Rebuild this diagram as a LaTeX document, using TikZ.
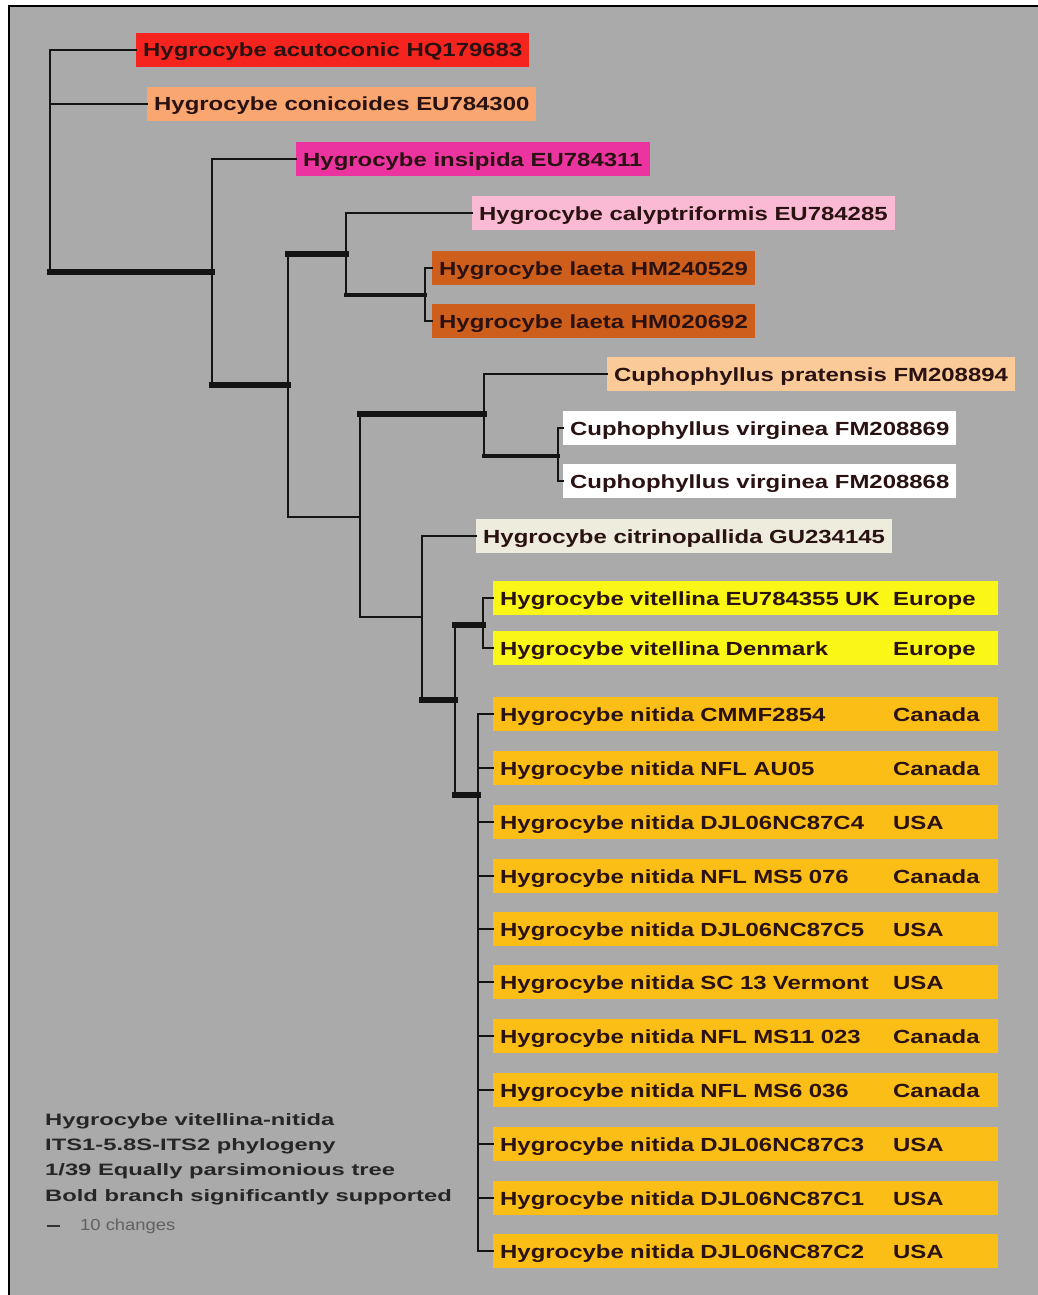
\documentclass[tikz,border=0pt]{standalone}
\usepackage{fontspec}
\usepackage{tikz}
\usetikzlibrary{positioning,calc}
\newfontfamily\taxonfont{Liberation Sans}[FakeStretch=1.26]
\newfontfamily\notefont{Liberation Sans}[FakeStretch=1.44]
\newfontfamily\barfont{Liberation Sans}[FakeStretch=1.15]
\definecolor{panel}{RGB}{170,170,171}
\definecolor{ink}{RGB}{42,18,18}
\definecolor{acutored}{RGB}{246,36,30}
\definecolor{conicsalmon}{RGB}{250,166,112}
\definecolor{insipmagenta}{RGB}{236,52,160}
\definecolor{calyppink}{RGB}{250,186,212}
\definecolor{laetaorange}{RGB}{206,94,28}
\definecolor{pratpeach}{RGB}{250,202,152}
\definecolor{citrivory}{RGB}{238,236,220}
\definecolor{vityellow}{RGB}{250,246,22}
\definecolor{nitgold}{RGB}{250,190,22}
\tikzset{
    taxon/.style={fill=#1,anchor=west,text=ink,inner xsep=7pt,inner ysep=0pt,
        minimum height=34pt,text height=17pt,text depth=3pt,
        font=\taxonfont\bfseries\fontsize{19}{22}\selectfont},
    taxonrow/.style={taxon=#1,text width=491pt,align=left},
    country/.style={anchor=west,text=ink,inner sep=0pt,text height=17pt,text depth=3pt,
        font=\taxonfont\bfseries\fontsize{19}{22}\selectfont},
    branch/.style={draw=black!92,line width=2pt,line cap=rect},
    midbranch/.style={branch,line width=3.5pt},
    boldbranch/.style={branch,line width=6.5pt}
}

\begin{document}
\begin{tikzpicture}[x=1pt,y=-1pt]
        \useasboundingbox (0,0) rectangle (1038,1295);
        \fill[panel] (9,6) rectangle (1038,1295);
        \draw[line width=2.5pt] (9,1295) -- (9,6) -- (1038,6);

        % Taxa
        \node[taxon=acutored] (acuto) at (136,50) {Hygrocybe acutoconic HQ179683};
        \node[taxon=conicsalmon] (conic) at (147,104) {Hygrocybe conicoides EU784300};
        \node[taxon=insipmagenta] (insip) at (296,159) {Hygrocybe insipida EU784311};
        \node[taxon=calyppink] (calyp) at (472,213) {Hygrocybe calyptriformis EU784285};
        \node[taxon=laetaorange] (laetaA) at (432,268) {Hygrocybe laeta HM240529};
        \node[taxon=laetaorange] (laetaB) at (432,321) {Hygrocybe laeta HM020692};
        \node[taxon=pratpeach] (prat) at (607,374) {Cuphophyllus pratensis FM208894};
        \node[taxon=white] (virgA) at (563,428) {Cuphophyllus virginea FM208869};
        \node[taxon=white] (virgB) at (563,481) {Cuphophyllus virginea FM208868};
        \node[taxon=citrivory] (citri) at (476,536) {Hygrocybe citrinopallida GU234145};

        % vitellina-nitida rows, with the region in its own column
        \node[taxonrow=vityellow] (vitA) at (493,598) {Hygrocybe vitellina EU784355 UK};
        \node[country] (vitAc) at (893,598) {Europe};
        \node[taxonrow=vityellow] (vitB) at (493,648) {Hygrocybe vitellina Denmark};
        \node[country] (vitBc) at (893,648) {Europe};
        \node[taxonrow=nitgold] (nitA) at (493,714) {Hygrocybe nitida CMMF2854};
        \node[country] (nitAc) at (893,714) {Canada};
        \node[taxonrow=nitgold] (nitB) at (493,768) {Hygrocybe nitida NFL AU05};
        \node[country] (nitBc) at (893,768) {Canada};
        \node[taxonrow=nitgold] (nitC) at (493,822) {Hygrocybe nitida DJL06NC87C4};
        \node[country] (nitCc) at (893,822) {USA};
        \node[taxonrow=nitgold] (nitD) at (493,876) {Hygrocybe nitida NFL MS5 076};
        \node[country] (nitDc) at (893,876) {Canada};
        \node[taxonrow=nitgold] (nitE) at (493,929) {Hygrocybe nitida DJL06NC87C5};
        \node[country] (nitEc) at (893,929) {USA};
        \node[taxonrow=nitgold] (nitF) at (493,982) {Hygrocybe nitida SC 13 Vermont};
        \node[country] (nitFc) at (893,982) {USA};
        \node[taxonrow=nitgold] (nitG) at (493,1036) {Hygrocybe nitida NFL MS11 023};
        \node[country] (nitGc) at (893,1036) {Canada};
        \node[taxonrow=nitgold] (nitH) at (493,1090) {Hygrocybe nitida NFL MS6 036};
        \node[country] (nitHc) at (893,1090) {Canada};
        \node[taxonrow=nitgold] (nitI) at (493,1144) {Hygrocybe nitida DJL06NC87C3};
        \node[country] (nitIc) at (893,1144) {USA};
        \node[taxonrow=nitgold] (nitJ) at (493,1198) {Hygrocybe nitida DJL06NC87C1};
        \node[country] (nitJc) at (893,1198) {USA};
        \node[taxonrow=nitgold] (nitK) at (493,1251) {Hygrocybe nitida DJL06NC87C2};
        \node[country] (nitKc) at (893,1251) {USA};

        % Internal nodes of the tree
        \coordinate (root) at (50,272);
        \coordinate (hygro) at (212,272);
        \coordinate (core) at (288,385);
        \coordinate (calclade) at (346,254);
        \coordinate (laeta) at (425,295);
        \coordinate (cupclade) at (360,517);
        \coordinate (cuph) at (484,414);
        \coordinate (virg) at (558,456);
        \coordinate (citclade) at (422,617);
        \coordinate (vitnit) at (455,700);
        \coordinate (vit) at (483,625);
        \coordinate (nit) at (478,795);

        % Branches
        \draw[branch] (root |- acuto.west) -- (root);
        \draw[branch] (root |- acuto.west) -- (acuto.west);
        \draw[branch] (root |- conic.west) -- (conic.west);
        \draw[boldbranch] (root) -- (hygro);

        \draw[branch] (hygro |- insip.west) -- (hygro |- core);
        \draw[branch] (hygro |- insip.west) -- (insip.west);
        \draw[boldbranch] (hygro |- core) -- (core);

        \draw[branch] (core |- calclade) -- (core |- cupclade);
        \draw[boldbranch] (core |- calclade) -- (calclade);
        \draw[branch] (core |- cupclade) -- (cupclade);

        \draw[branch] (calclade |- calyp.west) -- (calclade |- laeta);
        \draw[branch] (calclade |- calyp.west) -- (calyp.west);
        \draw[midbranch] (calclade |- laeta) -- (laeta);
        \draw[branch] (laeta |- laetaA.west) -- (laeta |- laetaB.west);
        \draw[branch] (laeta |- laetaA.west) -- (laetaA.west);
        \draw[branch] (laeta |- laetaB.west) -- (laetaB.west);

        \draw[branch] (cupclade |- cuph) -- (cupclade |- citclade);
        \draw[boldbranch] (cupclade |- cuph) -- (cuph);
        \draw[branch] (cupclade |- citclade) -- (citclade);
        \draw[branch] (cuph |- prat.west) -- (cuph |- virg);
        \draw[branch] (cuph |- prat.west) -- (prat.west);
        \draw[midbranch] (cuph |- virg) -- (virg);
        \draw[branch] (virg |- virgA.west) -- (virg |- virgB.west);
        \draw[branch] (virg |- virgA.west) -- (virgA.west);
        \draw[branch] (virg |- virgB.west) -- (virgB.west);

        \draw[branch] (citclade |- citri.west) -- (citclade |- vitnit);
        \draw[branch] (citclade |- citri.west) -- (citri.west);
        \draw[boldbranch] (citclade |- vitnit) -- (vitnit);
        \draw[branch] (vitnit |- vit) -- (vitnit |- nit);
        \draw[boldbranch] (vitnit |- vit) -- (vit);
        \draw[boldbranch] (vitnit |- nit) -- (nit);
        \draw[branch] (vit |- vitA.west) -- (vit |- vitB.west);
        \draw[branch] (vit |- vitA.west) -- (vitA.west);
        \draw[branch] (vit |- vitB.west) -- (vitB.west);

        % nitida polytomy
        \draw[branch] (nit |- nitA.west) -- (nit |- nitK.west);
        \draw[branch] (nit |- nitA.west) -- (nitA.west);
        \draw[branch] (nit |- nitB.west) -- (nitB.west);
        \draw[branch] (nit |- nitC.west) -- (nitC.west);
        \draw[branch] (nit |- nitD.west) -- (nitD.west);
        \draw[branch] (nit |- nitE.west) -- (nitE.west);
        \draw[branch] (nit |- nitF.west) -- (nitF.west);
        \draw[branch] (nit |- nitG.west) -- (nitG.west);
        \draw[branch] (nit |- nitH.west) -- (nitH.west);
        \draw[branch] (nit |- nitI.west) -- (nitI.west);
        \draw[branch] (nit |- nitJ.west) -- (nitJ.west);
        \draw[branch] (nit |- nitK.west) -- (nitK.west);

        % Caption and scale
        \node[anchor=north west,inner sep=0pt,align=left,text=black!85,
            font=\notefont\bfseries\fontsize{16.5}{25.3}\selectfont] (caption) at (45,1113)
            {Hygrocybe vitellina-nitida\\ITS1-5.8S-ITS2 phylogeny\\1/39 Equally parsimonious tree\\Bold branch significantly supported};
        \node[anchor=west,inner sep=0pt,text=black!62,
            font=\barfont\fontsize{16}{18}\selectfont] (changes) at (80,1226) {10 changes};
        \draw[line width=2.5pt,black!80] ([xshift=-33pt]changes.west) -- ([xshift=-20pt]changes.west);
    \end{tikzpicture}
\end{document}
